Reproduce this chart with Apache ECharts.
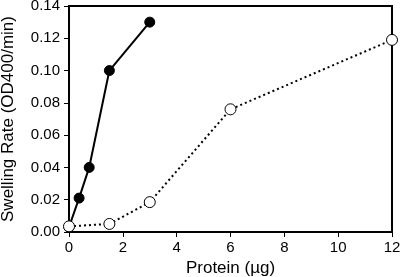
<!DOCTYPE html>
<html>
<head>
<meta charset="utf-8">
<script src="https://cdn.jsdelivr.net/npm/echarts@6/dist/echarts.min.js"></script>
<style>
  html, body { margin: 0; padding: 0; background: #fff; }
  #chart { width: 400px; height: 277px; }
</style>
</head>
<body>
<div id="chart"></div>
<script>
// filled circles (solid line)
var proteinA = [0, 0.375, 0.75, 1.5, 3];
var rateA = [0.003, 0.021, 0.040, 0.100, 0.130];
// open circles (dotted line)
var proteinB = [0, 1.5, 3, 6, 12];
var rateB = [0.0035, 0.005, 0.0185, 0.076, 0.119];

var xTicks = [0, 2, 4, 6, 8, 10, 12];
var yTicks = [0, 0.02, 0.04, 0.06, 0.08, 0.10, 0.12, 0.14];

function pairs(xs, ys) {
  var out = [];
  for (let i = 0; i < xs.length; i++) {
    out.push([xs[i], ys[i]]);
  }
  return out;
}

var font = "'Liberation Sans', Arial, sans-serif";
var black = "#000000";
var myChart = echarts.init(document.getElementById("chart"));

myChart.setOption({
  animation: false,
  // box round the plot comes from the grid border
  grid: {
    left: 69, right: 8, top: 6, bottom: 45,
    outerBoundsMode: "none",
    show: true, borderColor: black, borderWidth: 2,
  },
  xAxis: {
    type: "value",
    min: xTicks[0],
    max: xTicks[xTicks.length - 1],
    interval: 2,
    name: "Protein (\u00b5g)",
    nameLocation: "middle",
    nameGap: 26,
    nameTextStyle: { fontFamily: font, fontSize: 17, color: black },
    axisLine: { show: true, lineStyle: { color: black, width: 2 } },
    axisTick: { show: true, length: 5, lineStyle: { color: black, width: 1 } },
    axisLabel: { fontFamily: font, fontSize: 15, color: black, margin: 8 },
    splitLine: { show: false },
  },
  yAxis: {
    type: "value",
    min: yTicks[0],
    max: yTicks[yTicks.length - 1],
    interval: 0.02,
    name: "Swelling Rate (OD400/min)",
    nameLocation: "middle",
    nameGap: 52,
    nameTextStyle: { fontFamily: font, fontSize: 17, color: black },
    axisLine: { show: true, lineStyle: { color: black, width: 2 } },
    axisTick: { show: true, length: 5, lineStyle: { color: black, width: 1 } },
    axisLabel: {
      fontFamily: font,
      fontSize: 15,
      color: black,
      margin: 9,
      formatter: function (v) { return v.toFixed(2); },
    },
    splitLine: { show: false },
  },
  series: [
    {
      type: "line",
      data: pairs(proteinA, rateA),
      symbol: "circle",
      symbolSize: 10,
      itemStyle: { color: black, borderColor: black, borderWidth: 1 },
      lineStyle: { color: black, width: 2, type: "solid" },
      z: 2,
    },
    {
      type: "line",
      data: pairs(proteinB, rateB),
      symbol: "circle",
      symbolSize: 11,
      clip: false,
      itemStyle: { color: "#ffffff", borderColor: black, borderWidth: 1 },
      lineStyle: { color: black, width: 2, type: [2, 3] },
      z: 3,
    },
  ],
});
</script>
</body>
</html>
